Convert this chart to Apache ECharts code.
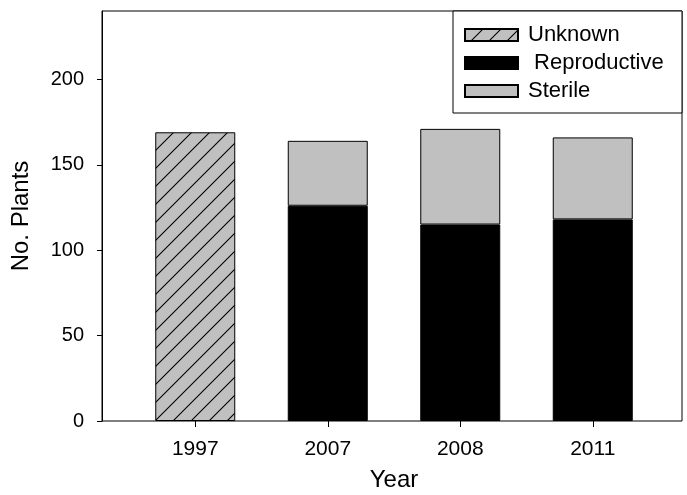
<!DOCTYPE html>
<html>
<head>
<meta charset="utf-8">
<script src="https://cdn.jsdelivr.net/npm/echarts@6/dist/echarts.min.js"></script>
<style>
html,body{margin:0;padding:0;background:#fff;}
#chart{width:687px;height:495px;}
</style>
</head>
<body>
<div id="chart"></div>
<script>
// ---- data ----
const years = ['1997', '2007', '2008', '2011'];
const unknown = [169, '-', '-', '-'];
const reproductive = ['-', 126, 115, 118];
const sterile = ['-', 38, 56, 48];
const yMax = 240;      // axis extent
const yTickStep = 50;  // tick labels 0..200

// hatch pattern for "Unknown"
function makeHatch() {
  const s = 18;
  const c = document.createElement('canvas');
  c.width = s; c.height = s;
  const g = c.getContext('2d');
  g.fillStyle = '#c0c0c0';
  g.fillRect(0, 0, s, s);
  g.strokeStyle = '#000';
  g.lineWidth = 1.1;
  g.beginPath();
  g.moveTo(0, s); g.lineTo(s, 0);
  g.moveTo(-2, 2); g.lineTo(2, -2);
  g.moveTo(s - 2, s + 2); g.lineTo(s + 2, s - 2);
  g.stroke();
  return c;
}
const hatch = { image: makeHatch(), repeat: 'repeat' };

const FONT = 'Liberation Sans, Arial, sans-serif';
const chart = echarts.init(document.getElementById('chart'), null, { renderer: 'canvas' });

// plot frame: top 11, bottom 421 (bottom margin 74)
const TOP = 11, BOTTOM = 74, H = 495 - TOP - BOTTOM;
const tickAxisMax = 250;
const tickTop = TOP - (tickAxisMax - yMax) * H / yMax;

const option = {
  backgroundColor: '#fff',
  animation: false,
  grid: [
    { left: 129, right: 28, top: TOP, bottom: BOTTOM, outerBoundsMode: 'none', containLabel: false },
    { left: 102, right: 5, top: TOP, bottom: BOTTOM, outerBoundsMode: 'none', containLabel: false, show: true, borderColor: '#000', borderWidth: 1, backgroundColor: 'transparent' },
    { left: 102, right: 5, top: tickTop, bottom: BOTTOM, outerBoundsMode: 'none', containLabel: false }
  ],
  xAxis: [
    {
      type: 'category', gridIndex: 0, data: years,
      axisLine: { show: false },
      axisTick: { show: true, alignWithLabel: true, inside: false, length: 6, lineStyle: { color: '#000' } },
      axisLabel: { color: '#000', fontFamily: FONT, fontSize: 21, margin: 18 },
      name: 'Year', nameLocation: 'middle', nameGap: 47,
      nameTextStyle: { color: '#000', fontFamily: FONT, fontSize: 24 }
    },
    { type: 'value', gridIndex: 1, show: false, min: 0, max: 1 },
    { type: 'value', gridIndex: 2, show: false, min: 0, max: 1 }
  ],
  yAxis: [
    { type: 'value', gridIndex: 0, min: 0, max: yMax, show: false },
    {
      type: 'value', gridIndex: 1, min: 0, max: yMax,
      axisLine: { show: true, lineStyle: { color: '#000' } },
      axisTick: { show: false },
      axisLabel: { show: false },
      splitLine: { show: false },
      name: 'No. Plants', nameLocation: 'middle', nameGap: 69,
      nameTextStyle: { color: '#000', fontFamily: FONT, fontSize: 24 }
    },
    {
      type: 'value', gridIndex: 2, min: 0, max: tickAxisMax, interval: yTickStep,
      axisLine: { show: false },
      axisTick: { show: true, inside: false, length: 5, lineStyle: { color: '#000' } },
      axisLabel: { color: '#000', fontFamily: FONT, fontSize: 20, margin: 18, showMaxLabel: false },
      splitLine: { show: false }
    }
  ],
  legend: {
    orient: 'vertical',
    left: 464, top: 24,
    icon: 'rect',
    itemWidth: 53, itemHeight: 12, itemGap: 6,
    padding: 0,
    textStyle: { color: '#000', fontFamily: FONT, fontSize: 22, padding: [0, 0, 0, 5] },
    data: ['Unknown', ' Reproductive', 'Sterile']
  },
  graphic: [
    { type: 'rect', shape: { x: 453, y: 11, width: 229, height: 102 }, style: { fill: '#fff', stroke: '#000', lineWidth: 1 }, z: 0, silent: true }
  ],
  series: [
    {
      name: 'Unknown', type: 'bar', stack: 'total', xAxisIndex: 0, yAxisIndex: 0,
      barWidth: 80, data: unknown,
      itemStyle: { color: hatch, borderColor: '#000', borderWidth: 1 }
    },
    {
      name: ' Reproductive', type: 'bar', stack: 'total', xAxisIndex: 0, yAxisIndex: 0,
      barWidth: 80, data: reproductive,
      itemStyle: { color: '#000', borderColor: '#000', borderWidth: 1 }
    },
    {
      name: 'Sterile', type: 'bar', stack: 'total', xAxisIndex: 0, yAxisIndex: 0,
      barWidth: 80, data: sterile,
      itemStyle: { color: '#c0c0c0', borderColor: '#000', borderWidth: 1 }
    }
  ]
};
chart.setOption(option);
</script>
</body>
</html>
